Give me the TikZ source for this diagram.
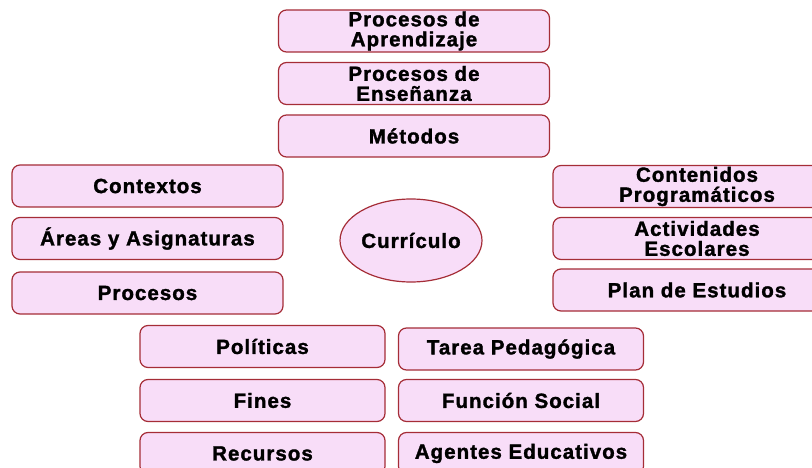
\documentclass[tikz,border=0pt]{standalone}
\usepackage{fontspec}
\setmainfont{Liberation Sans}[LetterSpace=5,BoldFeatures={FakeBold=1.5}]
\usetikzlibrary{shapes.geometric}
\definecolor{relleno}{RGB}{248,221,248}
\definecolor{borde}{RGB}{165,45,55}
\tikzset{
  tema/.style={draw=borde, fill=relleno, line width=1.2pt, rounded corners=8pt,
    minimum width=271pt, minimum height=42pt, inner sep=0pt, align=center,
    font=\fontsize{20.5}{20}\selectfont\bfseries},
  abajo/.style={tema, minimum width=245pt},
  centro/.style={ellipse, draw=borde, fill=relleno, line width=1.2pt,
    minimum width=142pt, minimum height=83pt, inner sep=0pt,
    font=\fontsize{20.5}{20}\selectfont\bfseries}
}
\begin{document}
\begin{tikzpicture}[x=1pt,y=-1pt]
%\draw[step=20,gray,very thin] (0,0) grid (812,468);
\useasboundingbox (0,0) rectangle (812,468);
\clip (0,0) rectangle (812,468);
\node[tema] (aprendizaje) at (414,31) {Procesos de\\Aprendizaje};
\node[tema] (ensenanza) at (414,83.5) {Procesos de\\Enseñanza};
\node[tema] (metodos) at (414,136) {Métodos};
\node[tema] (contextos) at (147.5,186) {Contextos};
\node[tema] (areas) at (147.5,238.5) {Áreas y Asignaturas};
\node[tema] (procesos) at (147.5,293) {Procesos};
\node[tema,minimum width=288pt] (contenidos) at (697,186.5) {Contenidos\\Programáticos};
\node[tema,minimum width=288pt] (actividades) at (697,238.5) {Actividades\\Escolares};
\node[tema,minimum width=288pt] (plan) at (697,290) {Plan de Estudios};
\node[centro] (curriculo) at (411,240.5) {Currículo};
\node[abajo] (politicas) at (262.5,346.5) {Políticas};
\node[abajo] (fines) at (262.5,400.5) {Fines};
\node[abajo] (recursos) at (262.5,453.5) {Recursos};
\node[abajo] (tarea) at (521,349) {Tarea Pedagógica};
\node[abajo] (funcion) at (521,400.5) {Función Social};
\node[abajo] (agentes) at (521,453.5) {Agentes Educativos};
\end{tikzpicture}
\end{document}
